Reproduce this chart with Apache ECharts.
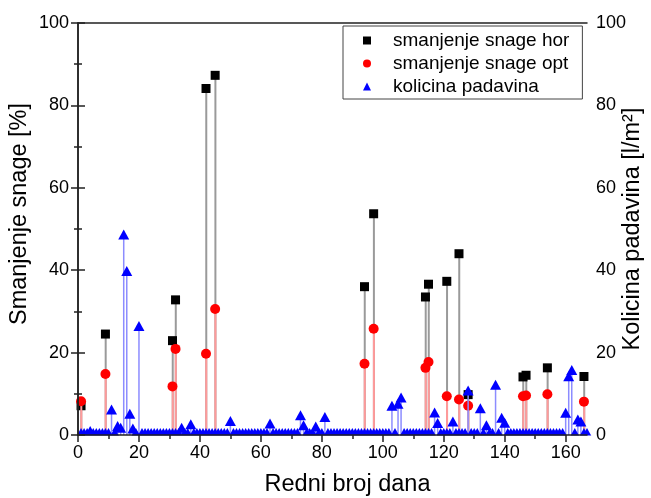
<!DOCTYPE html>
<html><head><meta charset="utf-8">
<script src="https://cdn.jsdelivr.net/npm/echarts@6/dist/echarts.min.js"></script>
<style>html,body{margin:0;padding:0;background:#fff}#c{width:651px;height:498px}</style>
</head><body><div id="c"></div>
<script>
// Days (Redni broj dana) with reduced power values
const dani = [1, 9, 31, 32, 42, 45, 94, 97, 114, 115, 121, 125, 128, 146, 147, 154, 166];
// smanjenje snage hor [%]
const smanjenjeHor = [7.1, 24.5, 22.9, 32.8, 84.1, 87.3, 36.0, 53.7, 33.5, 36.6, 37.3, 44.0, 9.8, 14.1, 14.5, 16.3, 14.2];
// smanjenje snage opt [%]
const smanjenjeOpt = [8.2, 14.8, 11.8, 20.9, 19.7, 30.6, 17.3, 25.8, 16.3, 17.7, 9.4, 8.6, 7.1, 9.4, 9.6, 9.9, 8.1];
// kolicina padavina [l/m2], one value per day, days 1..167
const padavine = [
  0, 0, 0, 0.5, 0, 0, 0, 0, 0, 0,
  5.7, 0, 1.7, 1.3, 48.2, 39.3, 4.7, 1.1, 0, 26.0,
  0, 0, 0, 0, 0, 0, 0, 0, 0, 0,
  0, 0, 0, 1.3, 0, 0, 2.1, 0, 0, 0,
  0, 0, 0, 0, 0, 0, 0, 0, 0, 2.9,
  0, 0, 0, 0, 0, 0, 0, 0, 0, 0,
  0, 0, 2.3, 0, 0, 0, 0, 0, 0, 0,
  0, 0, 4.3, 1.9, 0, 0, 0, 1.6, 0, 0,
  3.9, 0, 0, 0, 0, 0, 0, 0, 0, 0,
  0, 0, 0, 0, 0, 0, 0, 0, 0, 0,
  0, 0, 6.6, 0, 7.1, 8.6, 0, 0, 0, 0,
  0, 0, 0, 0, 0, 0, 5.0, 2.4, 0, 0,
  0, 0, 2.8, 0, 0, 0, 0, 10.3, 0, 0,
  0, 6.0, 0, 1.9, 0, 0, 11.7, 0, 3.7, 2.5,
  0, 0, 0, 0, 0, 0, 0, 0, 0, 0,
  0, 0, 0, 0, 0, 0, 0, 0, 0, 4.9,
  13.8, 15.3, 0, 3.3, 2.8, 0, 0
];
const xMajorTicks = [0, 20, 40, 60, 80, 100, 120, 140, 160];
const xMinorTicks = [10, 30, 50, 70, 90, 110, 130, 150];

const FONT = '"Liberation Sans", Arial, sans-serif';
const AX = '#222';
const pairs = (d, v) => d.map((x, i) => [x, v[i]]);
const padData = padavine.map((v, i) => [i + 1, v]);

const chart = echarts.init(document.getElementById('c'), null, {renderer: 'canvas'});
const yBase = {
  type: 'value', min: 0, max: 100, interval: 20, z: 10,
  axisLine: {show: true, lineStyle: {color: AX, width: 1.5}},
  axisTick: {show: true, inside: false, length: 7, lineStyle: {color: AX, width: 1.5}},
  minorTick: {show: true, splitNumber: 2, length: 4, lineStyle: {color: AX, width: 1.5}},
  axisLabel: {fontSize: 18, color: '#000', fontFamily: FONT, margin: 9},
  splitLine: {show: false},
  nameLocation: 'middle', nameMoveOverlap: false
};
chart.setOption({
  animation: false,
  backgroundColor: '#fff',
  grid: {left: 78, right: 64, top: 23, bottom: 63, outerBoundsMode: 'none'},
  xAxis: [
    {type: 'value', min: 0, max: 167, interval: 20, position: 'bottom', z: 10,
     axisLine: {show: true, onZero: false, lineStyle: {color: AX, width: 1.5}},
     axisTick: {show: true, inside: false, length: 7, customValues: xMajorTicks, lineStyle: {color: AX, width: 1.5}},
     axisLabel: {customValues: xMajorTicks, fontSize: 18, color: '#000', fontFamily: FONT, margin: 9},
     splitLine: {show: false},
     name: 'Redni broj dana', nameLocation: 'middle', nameGap: 38, nameMoveOverlap: false,
     nameTextStyle: {fontSize: 23.5, color: '#000', fontFamily: FONT, padding: [0, 0, 0, 30]}},
    {type: 'value', min: 0, max: 167, position: 'bottom', z: 10,
     axisLine: {show: false, onZero: false},
     axisTick: {show: true, inside: false, length: 4, customValues: xMinorTicks, lineStyle: {color: AX, width: 1.5}},
     axisLabel: {show: false}, splitLine: {show: false}},
    {type: 'value', min: 0, max: 167, position: 'top', z: 10,
     axisLine: {show: true, onZero: false, lineStyle: {color: AX, width: 1.5}},
     axisTick: {show: false}, axisLabel: {show: false}, splitLine: {show: false}}
  ],
  yAxis: [
    Object.assign({}, yBase, {position: 'left', name: 'Smanjenje snage [%]', nameGap: 46,
      nameTextStyle: {fontSize: 23.5, color: '#000', fontFamily: FONT, padding: [0, 0, 0, 30]}}),
    Object.assign({}, yBase, {position: 'right', name: 'Kolicina padavina [l/m²]', nameGap: 34,
      nameTextStyle: {fontSize: 23.5, color: '#000', fontFamily: FONT}})
  ],
  legend: {
    data: [
      {name: 'smanjenje snage hor', icon: 'rect'},
      {name: 'smanjenje snage opt', icon: 'circle'},
      {name: 'kolicina padavina', icon: 'triangle'}
    ],
    orient: 'vertical', left: 343, top: 26, padding: [5, 13, 3, 20],
    itemWidth: 8, itemHeight: 8, itemGap: 4,
    borderColor: '#444', borderWidth: 1, backgroundColor: '#fff',
    textStyle: {fontSize: 19, color: '#000', fontFamily: FONT, padding: [0, 0, 0, 17]},
    selectedMode: false, z: 20
  },
  graphic: [{type: 'rect', z: 8, silent: true,
    shape: {x: 70, y: 435.6, width: 530, height: 10}, style: {fill: '#fff'}}],
  series: [
    {type: 'bar', name: 'hor_stem', data: pairs(dani, smanjenjeHor), barWidth: 2, barGap: '-100%',
     itemStyle: {color: '#9a9a9a'}, z: 2, silent: true},
    {type: 'scatter', name: 'smanjenje snage hor', data: pairs(dani, smanjenjeHor), symbol: 'rect', symbolSize: 9,
     itemStyle: {color: '#000', opacity: 1}, z: 3},
    {type: 'bar', name: 'opt_stem', data: pairs(dani, smanjenjeOpt), barWidth: 2, barGap: '-100%',
     itemStyle: {color: '#ff9a9a'}, z: 4, silent: true},
    {type: 'scatter', name: 'smanjenje snage opt', data: pairs(dani, smanjenjeOpt), symbol: 'circle', symbolSize: 10,
     itemStyle: {color: '#ff0000', opacity: 1}, z: 5},
    {type: 'bar', name: 'pad_stem', yAxisIndex: 1, data: padData.filter(p => p[1] > 0), barWidth: 1.5, barGap: '-100%',
     itemStyle: {color: '#8c8cff'}, z: 6, silent: true},
    {type: 'scatter', name: 'kolicina padavina', yAxisIndex: 1, data: padData, symbol: 'triangle', symbolSize: [11, 10],
     symbolOffset: [0, -2], itemStyle: {color: '#0000ff', opacity: 1}, z: 7}
  ]
});
</script></body></html>
